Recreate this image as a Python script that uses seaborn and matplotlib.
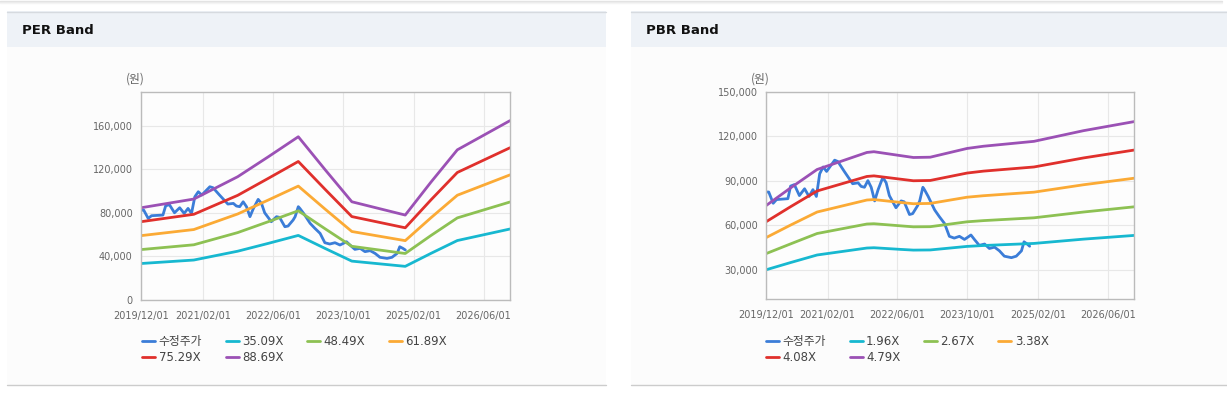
import pandas as pd
import seaborn as sns
import matplotlib.pyplot as plt
import matplotlib.dates as mdates
from matplotlib.patches import Rectangle
from matplotlib.ticker import FuncFormatter

# adjusted close (수정주가), shared by both band charts
priceDates = ['2019-12-01', '2019-12-20', '2020-01-20', '2020-02-12', '2020-05-01', '2020-05-20',
              '2020-06-15', '2020-07-20', '2020-08-25', '2020-09-25', '2020-10-22', '2020-11-15',
              '2020-12-08', '2021-01-01', '2021-01-25', '2021-03-22', '2021-04-13', '2021-05-28',
              '2021-07-25', '2021-09-01', '2021-09-22', '2021-10-15', '2021-11-08', '2021-12-01',
              '2021-12-25', '2022-01-18', '2022-02-20', '2022-03-15', '2022-04-06', '2022-05-22',
              '2022-06-27', '2022-07-18', '2022-08-24', '2022-09-15', '2022-10-20', '2022-11-03',
              '2022-11-25', '2022-12-06', '2023-01-01', '2023-02-15', '2023-03-20', '2023-04-25',
              '2023-05-28', '2023-07-01', '2023-08-06', '2023-09-10', '2023-10-03', '2023-10-25',
              '2023-11-18', '2023-12-22', '2024-01-28', '2024-03-01', '2024-04-06', '2024-05-10',
              '2024-06-13', '2024-08-01', '2024-09-04', '2024-10-10', '2024-10-28', '2024-11-19',
              '2024-12-06']
priceValues = [82500, 82500, 74900, 77400, 78000, 86500,
               87500, 80100, 84700, 79500, 84100, 79500,
               94800, 99400, 96400, 104000, 103100, 96400,
               88100, 88700, 86300, 85700, 90200, 85700,
               76500, 84100, 92400, 88700, 80100, 71900,
               76500, 75900, 67300, 67900, 73400, 76500,
               85700, 84100, 79500, 70400, 65800, 61200,
               52600, 51400, 52600, 50500, 52000, 53500,
               50500, 46500, 47400, 44400, 45300, 42800,
               39200, 38200, 39200, 42800, 48900, 47400,
               45900]

# PER band
perDates = ['2019-12-01', '2020-12-01', '2021-10-01', '2022-05-01', '2022-11-25', '2023-06-01',
            '2023-12-01', '2024-12-05', '2025-06-01', '2025-12-01', '2026-12-01']
perLabels = ['35.09X', '48.49X', '61.89X', '75.29X', '88.69X']
per3509 = [33500, 36700, 44800, 52000, 59300, 47200, 35700, 30900, 42800, 54600, 65200]
per4849 = [46300, 50700, 61900, 71900, 81900, 65200, 49300, 42700, 59200, 75400, 90000]
per6189 = [59100, 64700, 79000, 91800, 104600, 83200, 62900, 54500, 75500, 96200, 114900]
per7529 = [71900, 78700, 96100, 111700, 127200, 101300, 76600, 66300, 91900, 117100, 139800]
per8869 = [84700, 92700, 113200, 131500, 149900, 119300, 90200, 78000, 108200, 137900, 164700]

# PBR band
pbrDates = ['2019-12-01', '2020-05-20', '2020-11-20', '2021-11-01', '2021-12-20', '2022-06-20',
            '2022-09-20', '2023-01-15', '2023-09-28', '2024-01-20', '2025-01-05', '2025-12-15',
            '2026-12-01']
pbrLabels = ['1.96X', '2.67X', '3.38X', '4.08X', '4.79X']
pbr196 = [30000, 34900, 40000, 44700, 44900, 43800, 43300, 43400, 45800, 46400, 47800, 50700, 53200]
pbr267 = [40900, 47500, 54500, 60900, 61100, 59700, 59000, 59100, 62400, 63200, 65100, 69000, 72500]
pbr338 = [51700, 60200, 69000, 77100, 77400, 75500, 74600, 74800, 79000, 80000, 82400, 87400, 91800]
pbr408 = [62400, 72600, 83200, 93000, 93400, 91200, 90100, 90300, 95300, 96600, 99400, 105500, 110800]
pbr479 = [73300, 85300, 97700, 109200, 109700, 107100, 105800, 106000, 111900, 113400, 116700, 123900, 130000]

xTicks = ['2019-12-01', '2021-02-01', '2022-06-01', '2023-10-01', '2025-02-01', '2026-06-01']
colors = ['#3b7dd8', '#17b8d0', '#8dc153', '#fbaa35', '#e0302c', '#9b51b5']

sns.set_style('white')
plt.rcParams['font.family'] = ['DejaVu Sans', 'Noto Sans CJK KR']

W, H = 1227, 398
fig = plt.figure(figsize=(W / 100, H / 100), dpi=100)


def box(x0, y0, x1, y1, color):
    # pixel coords, y measured from the top
    fig.add_artist(Rectangle((x0 / W, 1 - y1 / H), (x1 - x0) / W, (y1 - y0) / H,
                             transform=fig.transFigure, facecolor=color, edgecolor='none', zorder=-5))


def hline(x0, x1, y, color, lw=1):
    fig.add_artist(plt.Line2D([x0 / W, x1 / W], [1 - y / H, 1 - y / H],
                              transform=fig.transFigure, color=color, lw=lw, zorder=-4))


# page decoration
hline(0, 1222, 0.5, '#e2e2e2')
hline(0, 1222, 1.5, '#ebebeb')
hline(0, 1222, 2.5, '#f4f4f4')
for x0, x1 in [(7, 606), (631, 1227)]:
    box(x0, 47, x1, 385, '#fcfcfc')
    box(x0, 11, x1, 47, '#eef2f7')
    hline(x0, x1, 11.5, '#d6dadf')
    hline(x0, x1, 385, '#cccccc')


def draw(px, bandDates, bands, labels, yTicks, yLim, title, titleX, unitX, legX):
    x0, y0, x1, y1 = px
    ax = fig.add_axes([x0 / W, 1 - y1 / H, (x1 - x0) / W, (y1 - y0) / H])
    ax.set_facecolor('#fdfdfd')
    sns.lineplot(x=pd.to_datetime(priceDates), y=priceValues, ax=ax, color=colors[0], lw=2, label='수정주가')
    for vals, lab, c in zip(bands, labels, colors[1:]):
        sns.lineplot(x=pd.to_datetime(bandDates), y=vals, ax=ax, color=c, lw=2, label=lab)

    ax.set_xlim(pd.Timestamp('2019-12-01'), pd.Timestamp('2026-12-01'))
    ax.set_xticks(pd.to_datetime(xTicks))
    ax.xaxis.set_major_formatter(mdates.DateFormatter('%Y/%m/%d'))
    ax.set_yticks(yTicks)
    ax.set_ylim(*yLim)
    ax.yaxis.set_major_formatter(FuncFormatter(lambda v, p: f'{v:,.0f}'))
    ax.set_xlabel('')
    ax.set_ylabel('')
    ax.grid(True, color='#e8e8e8', lw=0.8)
    ax.set_axisbelow(True)
    ax.tick_params(labelsize=7, color='#aaaaaa', labelcolor='#666666', length=3, pad=3)
    ax.tick_params(axis='x', pad=5)
    for s in ax.spines.values():
        s.set_color('#bbbbbb')
        s.set_linewidth(1)

    h, l = ax.get_legend_handles_labels()
    order = [0, 4, 1, 5, 2, 3]
    leg = ax.legend([h[i] for i in order], [l[i] for i in order], ncol=4, loc='upper left',
                    bbox_to_anchor=(legX / W, 1 - 335 / H), bbox_transform=fig.transFigure,
                    frameon=False, fontsize=8.5, handlelength=1.1, handletextpad=0.3,
                    columnspacing=2.0, labelspacing=0.25, borderpad=0, borderaxespad=0)
    for t in leg.get_texts():
        t.set_color('#444444')

    fig.text(titleX / W, 1 - 30 / H, title, fontsize=9.5, fontweight='bold', va='center', color='#111111')
    fig.text(unitX / W, 1 - 79 / H, '(원)', ha='center', va='center', fontsize=8.5, color='#666666',
             family=['Noto Sans CJK KR', 'DejaVu Sans'])


draw((141, 92, 510, 300), perDates, [per3509, per4849, per6189, per7529, per8869], perLabels,
     [0, 40000, 80000, 120000, 160000], (0, 191000), 'PER Band', 22, 135, 142)
draw((766, 92, 1134, 299), pbrDates, [pbr196, pbr267, pbr338, pbr408, pbr479], pbrLabels,
     [30000, 60000, 90000, 120000, 150000], (10300, 150000), 'PBR Band', 646, 760, 766)

fig.savefig('out.png', dpi=100)
